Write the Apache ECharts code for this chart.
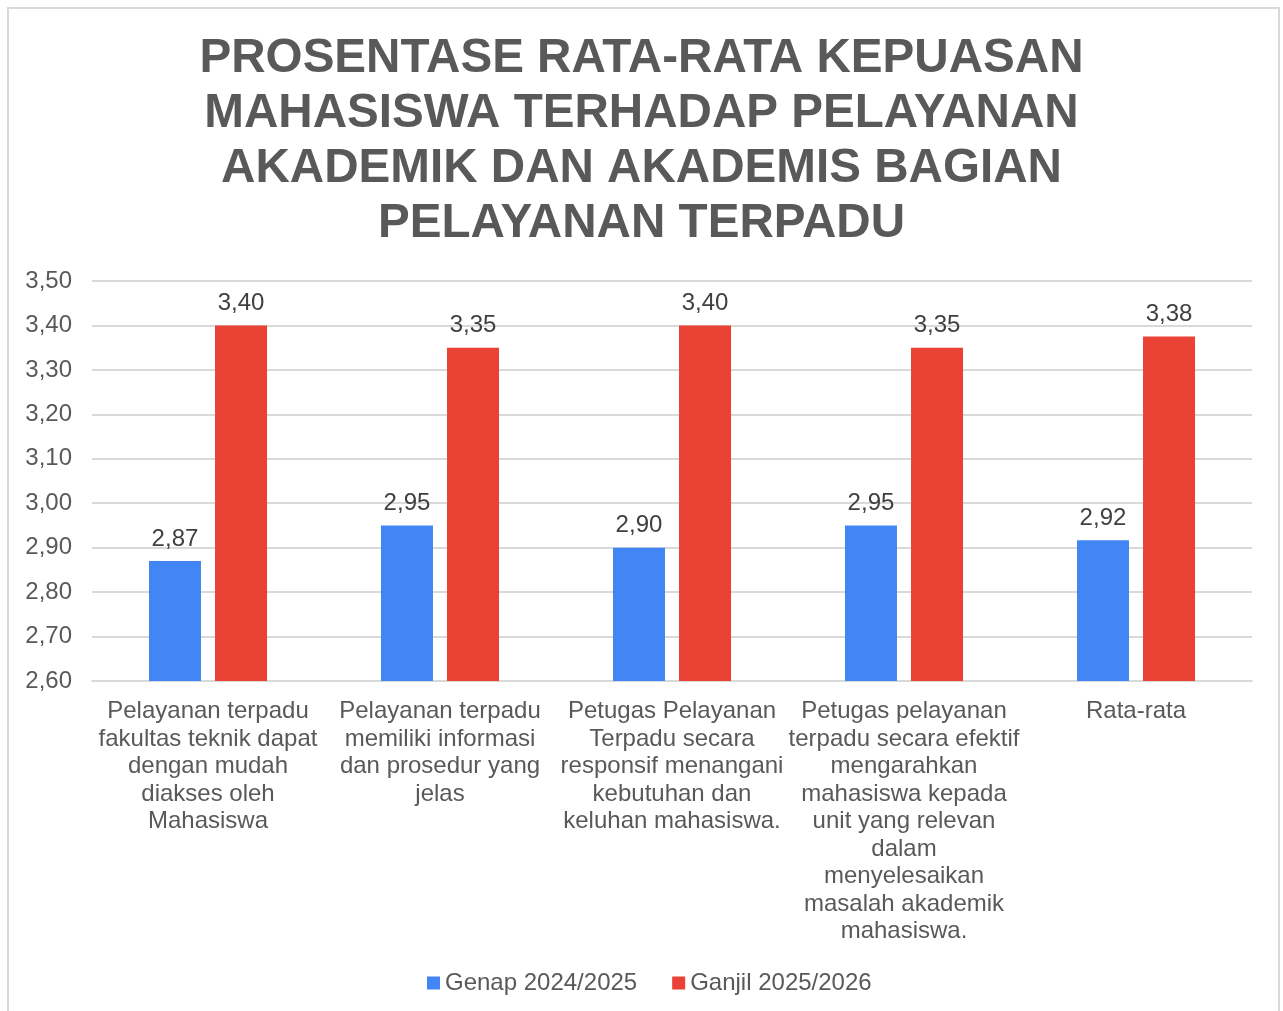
<!DOCTYPE html>
<html><head><meta charset="utf-8">
<script src="https://cdn.jsdelivr.net/npm/echarts@6/dist/echarts.min.js"></script>
<style>
html,body{margin:0;padding:0;background:#fff;}
#frame{position:absolute;left:7px;top:7px;width:1273px;height:1010px;border:2px solid #d9d9d9;box-sizing:border-box;}
#c{position:absolute;left:0;top:0;width:1283px;height:1011px;}
</style>
</head><body>
<div id="frame"></div>
<div id="c"></div>
<script>
const titleText = "PROSENTASE RATA-RATA KEPUASAN\nMAHASISWA TERHADAP PELAYANAN\nAKADEMIK DAN AKADEMIS BAGIAN\nPELAYANAN TERPADU";
const categories = [
  "Pelayanan terpadu\nfakultas teknik dapat\ndengan mudah\ndiakses oleh\nMahasiswa",
  "Pelayanan terpadu\nmemiliki informasi\ndan prosedur yang\njelas",
  "Petugas Pelayanan\nTerpadu secara\nresponsif menangani\nkebutuhan dan\nkeluhan mahasiswa.",
  "Petugas pelayanan\nterpadu secara efektif\nmengarahkan\nmahasiswa kepada\nunit yang relevan\ndalam\nmenyelesaikan\nmasalah akademik\nmahasiswa.",
  "Rata-rata"
];
const seriesNames = ["Genap 2024/2025", "Ganjil 2025/2026"];
const genap = [2.87, 2.95, 2.90, 2.95, 2.9167];
const ganjil = [3.40, 3.35, 3.40, 3.35, 3.375];
const yMin = 2.6, yMax = 3.5, yStep = 0.1;

const fmt = v => Number(v).toFixed(2).replace('.', ',');
const font = "'Liberation Sans', Arial, sans-serif";
const chart = echarts.init(document.getElementById('c'));
chart.setOption({
  animation: false,
  title: {
    text: titleText, left: 'center', top: 26,
    textStyle: { fontFamily: font, fontSize: 47.6, fontWeight: 'bold', color: '#595959', lineHeight: 55 }
  },
  legend: {
    bottom: 11, left: 422, itemWidth: 13, itemHeight: 13, itemGap: 35,
    icon: 'rect',
    textStyle: { fontFamily: font, fontSize: 24, color: '#595959' }
  },
  grid: { left: 92, right: 31, top: 281, bottom: 330, containLabel: false },
  xAxis: {
    type: 'category', data: categories,
    axisLine: { lineStyle: { color: '#d9d9d9', width: 2 } },
    axisTick: { show: false },
    axisLabel: { interval: 0, fontFamily: font, fontSize: 24, color: '#595959', lineHeight: 27.5, margin: 17 }
  },
  yAxis: {
    type: 'value', min: yMin, max: yMax, interval: yStep,
    axisLine: { show: false }, axisTick: { show: false },
    splitLine: { lineStyle: { color: '#d9d9d9', width: 2 } },
    axisLabel: { fontFamily: font, fontSize: 24, color: '#595959', margin: 20, formatter: fmt }
  },
  series: [
    { name: seriesNames[0], type: 'bar', data: genap, barWidth: 52, barGap: '27%',
      itemStyle: { color: '#4285F4' },
      label: { show: true, position: 'top', distance: 10, fontFamily: font, fontSize: 24, color: '#404040', formatter: p => fmt(p.value) } },
    { name: seriesNames[1], type: 'bar', data: ganjil, barWidth: 52,
      itemStyle: { color: '#EA4335' },
      label: { show: true, position: 'top', distance: 10, fontFamily: font, fontSize: 24, color: '#404040', formatter: p => fmt(p.value) } }
  ]
});
</script>
</body></html>
